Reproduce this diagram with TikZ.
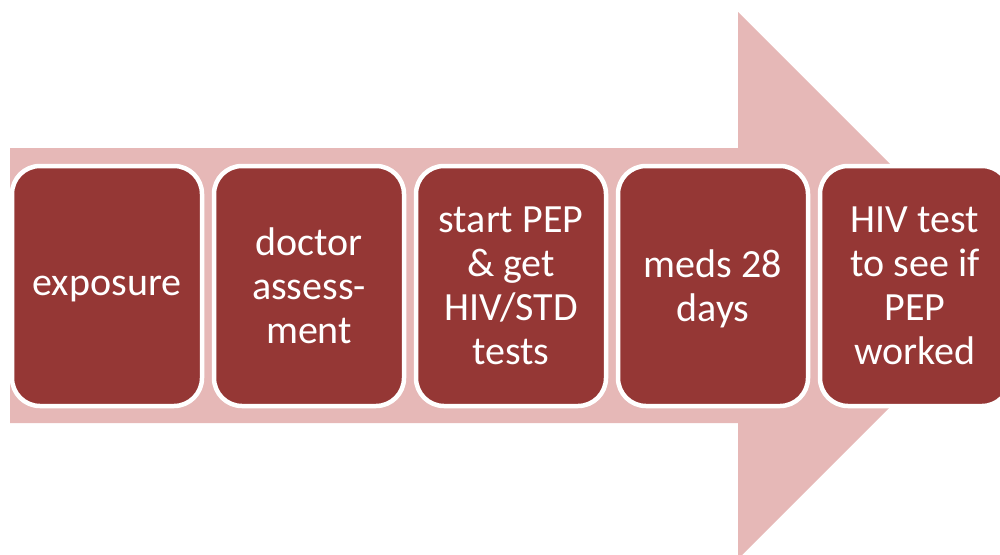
\documentclass[tikz,border=0pt]{standalone}
\usepackage{fontspec}
\setmainfont{Carlito}
\definecolor{arrowpink}{HTML}{E6B8B7}
\definecolor{stepred}{HTML}{953735}
\tikzset{stepbox/.style={draw=white,line width=4.5pt,fill=stepred,rounded corners=28pt,
  minimum width=190pt,minimum height=240pt,inner sep=0pt,align=center,text=white,
  text depth=0pt,font=\fontsize{40}{44}\selectfont}}
\begin{document}
\begin{tikzpicture}[x=1pt,y=-1pt]
		\useasboundingbox (0,0) rectangle (1000,554);
		\clip (0,0) rectangle (1000,554);
		\fill[arrowpink] (10,148) -- (738,148) -- (738,12) -- (1011.5,285.5) -- (738,559) -- (738,423) -- (10,423) -- cycle;
		\node[stepbox] (exposure) at (107,286) {exposure};
		\node[stepbox] (doctor) at (309,286) {doctor\\assess-\\ment};
		\node[stepbox] (startpep) at (511,286) {start PEP\\\& get\\HIV/STD\\tests};
		\node[stepbox] (meds) at (713,286) {meds 28\\days};
		\node[stepbox] (hivtest) at (915,286) {HIV test\\to see if\\PEP\\worked};
	\end{tikzpicture}
\end{document}
